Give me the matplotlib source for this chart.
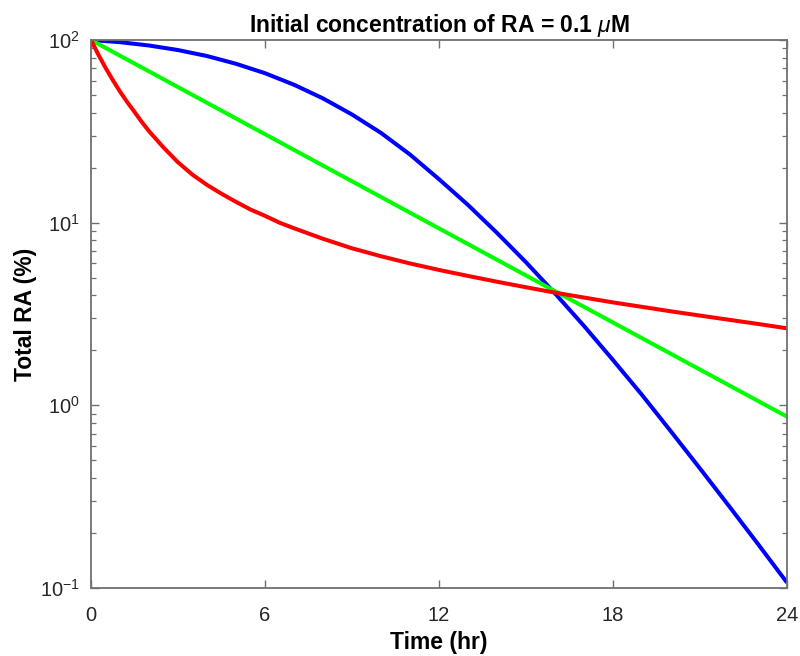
import matplotlib
matplotlib.use("Agg")
import matplotlib.pyplot as plt
from matplotlib.ticker import LogLocator, FixedLocator, NullFormatter

plt.rcParams['font.family'] = ['Liberation Sans', 'DejaVu Sans']
plt.rcParams['mathtext.fontset'] = 'custom'
plt.rcParams['mathtext.rm'] = 'Liberation Sans'
plt.rcParams['mathtext.it'] = 'Liberation Sans:italic'
plt.rcParams['mathtext.bf'] = 'Liberation Sans:bold'

# ---- data ----
t_blue = [0, 1, 2, 3, 4, 5, 6, 7, 8, 9, 10, 11, 12, 13, 14, 15, 16, 17, 18, 19, 20, 21, 22, 23, 24]
blue = [100, 97.3, 93.3, 88.1, 81.7, 74.1, 65.8, 56.9, 47.9, 39.1, 31.0, 23.6, 17.3, 12.5,
        8.79, 6.07, 4.10, 2.72, 1.77, 1.14, 0.719, 0.451, 0.281, 0.174, 0.107]

t_green = [0, 6, 12, 18, 24]
green = [100, 30.5, 9.3, 2.84, 0.867]

t_red = [0, 0.25, 0.5, 0.75, 1, 1.25, 1.5, 1.75, 2, 2.5, 3, 3.5, 4, 4.5, 5, 5.5, 6, 6.5,
         7, 8, 9, 10, 11, 12, 13, 14, 15, 16, 17, 18, 19, 20, 21, 22, 23, 24]
red = [100, 83.4, 70.5, 60.4, 52.2, 45.7, 40.4, 35.6, 31.7, 25.8, 21.4, 18.3, 16.1, 14.4,
       13.0, 11.8, 10.9, 10.0, 9.32, 8.16, 7.24, 6.55, 5.98, 5.51, 5.11, 4.75, 4.43, 4.14,
       3.89, 3.66, 3.46, 3.27, 3.10, 2.94, 2.79, 2.64]

x_ticks = [0, 6, 12, 18, 24]

title = "Initial concentration of RA = 0.1 $\\mu$M"
xlabel = "Time (hr)"
ylabel = "Total RA (%)"

# ---- figure ----
fig = plt.figure(figsize=(8.0, 6.56), dpi=100)
ax = fig.add_axes([91 / 800, 68 / 656, 696 / 800, 548 / 656])

lw = 2.9
ax.plot(t_blue, blue, color='#0000ff', lw=lw, solid_capstyle='butt', solid_joinstyle='round')
ax.plot(t_green, green, color='#00ff00', lw=lw, solid_capstyle='butt', solid_joinstyle='round')
ax.plot(t_red, red, color='#ff0000', lw=lw, solid_capstyle='butt', solid_joinstyle='round')

ax.set_yscale('log')
ax.set_xlim(0, 24)
ax.set_ylim(0.1, 100)
ax.xaxis.set_major_locator(FixedLocator(x_ticks))
ax.yaxis.set_major_locator(LogLocator(base=10, numticks=10))
ax.yaxis.set_minor_locator(LogLocator(base=10, subs=range(2, 10), numticks=20))
ax.yaxis.set_minor_formatter(NullFormatter())

spine_col = '#707070'
for s in ax.spines.values():
    s.set_color(spine_col)
    s.set_linewidth(1.3)

ax.tick_params(axis='both', which='major', direction='in', length=6, width=1.0,
               color=spine_col, labelsize=14.5, labelcolor='#262626',
               top=True, right=True)
ax.tick_params(axis='x', which='major', pad=13)
ax.tick_params(axis='y', which='major', pad=8)
ax.tick_params(axis='y', which='minor', direction='in', length=3.5, width=0.9,
               color=spine_col, left=True, right=True)

ax.set_title(title, fontsize=16.5, fontweight='bold', color='black', pad=6)
ax.set_xlabel(xlabel, fontsize=16.5, fontweight='bold', labelpad=4)
ax.set_ylabel(ylabel, fontsize=16.5, fontweight='bold', labelpad=2)

fig.savefig('out.png', dpi=100)
